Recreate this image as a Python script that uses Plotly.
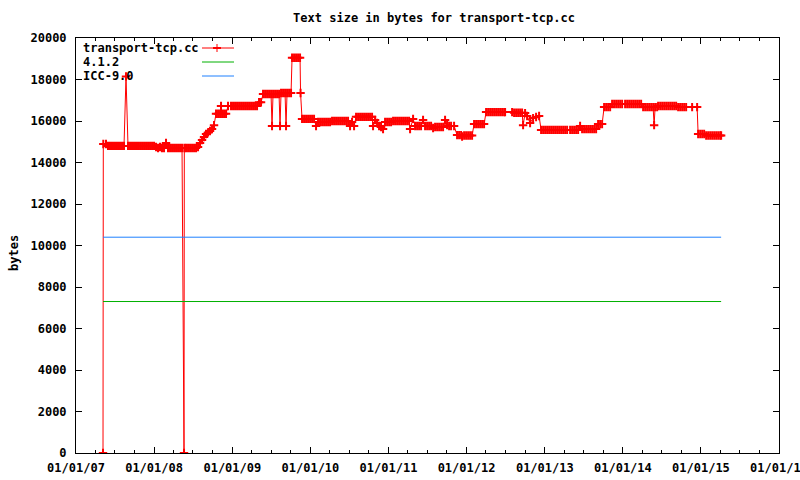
import pandas as pd
import plotly.graph_objects as go

# ---------------- data ----------------
title_text = "Text size in bytes for transport-tcp.cc"
series_names = ["transport-tcp.cc", "4.1.2", "ICC-9.0"]

# decimal-year dates of the builds of transport-tcp.cc
build_years = [
    2007.3457, 2007.3495, 2007.3841, 2007.4097, 2007.4353, 2007.4609, 2007.4866, 2007.5122,
    2007.5378, 2007.5634, 2007.5890, 2007.6146, 2007.6402, 2007.6658, 2007.6914, 2007.7170,
    2007.7426, 2007.7682, 2007.7938, 2007.8195, 2007.8451, 2007.8707, 2007.8963, 2007.9219,
    2007.9475, 2007.9731, 2007.9987, 2008.0243, 2008.0499, 2008.0755, 2008.1011, 2008.1268,
    2008.1524, 2008.1780, 2008.2036, 2008.2292, 2008.2548, 2008.2804, 2008.3060, 2008.3316,
    2008.3572, 2008.3828, 2008.3867, 2008.4084, 2008.4341, 2008.4597, 2008.4853, 2008.5109,
    2008.5365, 2008.5621, 2008.5877, 2008.6133, 2008.6389, 2008.6645, 2008.6901, 2008.7157,
    2008.7414, 2008.7670, 2008.7926, 2008.8182, 2008.8438, 2008.8566, 2008.8694, 2008.8950,
    2008.9206, 2008.9462, 2008.9846, 2009.0102, 2009.0358, 2009.0614, 2009.0871, 2009.1127,
    2009.1383, 2009.1639, 2009.1895, 2009.2151, 2009.2407, 2009.2663, 2009.2919, 2009.3175,
    2009.3431, 2009.3687, 2009.3943, 2009.4200, 2009.4456, 2009.4712, 2009.4968, 2009.5096,
    2009.5224, 2009.5480, 2009.5736, 2009.5992, 2009.6120, 2009.6248, 2009.6504, 2009.6760,
    2009.6888, 2009.7016, 2009.7273, 2009.7529, 2009.7657, 2009.7913, 2009.8169, 2009.8425,
    2009.8681, 2009.8745, 2009.8937, 2009.9193, 2009.9449, 2009.9705, 2009.9961, 2010.0217,
    2010.0474, 2010.0730, 2010.0986, 2010.1242, 2010.1498, 2010.1754, 2010.2010, 2010.2266,
    2010.2522, 2010.2778, 2010.3034, 2010.3290, 2010.3546, 2010.3803, 2010.4059, 2010.4315,
    2010.4571, 2010.4827, 2010.5083, 2010.5339, 2010.5595, 2010.5851, 2010.6107, 2010.6363,
    2010.6619, 2010.6876, 2010.7132, 2010.7388, 2010.7644, 2010.7900, 2010.8028, 2010.8284,
    2010.8540, 2010.8796, 2010.9052, 2010.9308, 2010.9565, 2010.9821, 2011.0077, 2011.0333,
    2011.0589, 2011.0845, 2011.1101, 2011.1357, 2011.1613, 2011.1869, 2011.2125, 2011.2382,
    2011.2638, 2011.2766, 2011.3150, 2011.3406, 2011.3662, 2011.3918, 2011.4174, 2011.4430,
    2011.4686, 2011.4942, 2011.5198, 2011.5455, 2011.5711, 2011.5967, 2011.6223, 2011.6479,
    2011.6735, 2011.6991, 2011.7247, 2011.7503, 2011.7759, 2011.8015, 2011.8399, 2011.8783,
    2011.9039, 2011.9296, 2011.9424, 2011.9680, 2011.9936, 2012.0192, 2012.0448, 2012.0704,
    2012.0960, 2012.1216, 2012.1472, 2012.1728, 2012.1984, 2012.2240, 2012.2497, 2012.2753,
    2012.3009, 2012.3265, 2012.3521, 2012.3777, 2012.4033, 2012.4289, 2012.4545, 2012.4801,
    2012.4929, 2012.5826, 2012.6082, 2012.6338, 2012.6594, 2012.6850, 2012.7106, 2012.7234,
    2012.7490, 2012.7746, 2012.8130, 2012.8514, 2012.8898, 2012.9282, 2012.9539, 2012.9795,
    2013.0051, 2013.0307, 2013.0563, 2013.0819, 2013.1075, 2013.1331, 2013.1587, 2013.1843,
    2013.2099, 2013.2356, 2013.2612, 2013.2868, 2013.3252, 2013.3508, 2013.3764, 2013.4020,
    2013.4276, 2013.4532, 2013.4788, 2013.5044, 2013.5300, 2013.5557, 2013.5813, 2013.6069,
    2013.6325, 2013.6581, 2013.6837, 2013.7093, 2013.7349, 2013.7605, 2013.7861, 2013.8117,
    2013.8374, 2013.8630, 2013.8886, 2013.9142, 2013.9398, 2013.9654, 2013.9910, 2014.0294,
    2014.0550, 2014.0806, 2014.1062, 2014.1318, 2014.1575, 2014.1831, 2014.2087, 2014.2343,
    2014.2599, 2014.2855, 2014.3111, 2014.3367, 2014.3623, 2014.3879, 2014.4007, 2014.4135,
    2014.4391, 2014.4519, 2014.4776, 2014.5032, 2014.5288, 2014.5544, 2014.5800, 2014.6056,
    2014.6312, 2014.6568, 2014.6824, 2014.7080, 2014.7336, 2014.7593, 2014.7849, 2014.8105,
    2014.8873, 2014.9513, 2014.9641, 2014.9898, 2015.0154, 2015.0410, 2015.0666, 2015.0922,
    2015.1178, 2015.1434, 2015.1690, 2015.1946, 2015.2202, 2015.2458, 2015.2586,
]

# text size in bytes for each build
text_bytes = [
    0, 14890, 14890, 14800, 14800, 14800, 14800, 14800,
    14800, 14800, 14800, 14800, 18150, 14800, 14800, 14800,
    14800, 14800, 14800, 14800, 14800, 14800, 14800, 14800,
    14800, 14800, 14800, 14750, 14700, 14750, 14700, 14700,
    14940, 14700, 14700, 14700, 14700, 14700, 14700, 14700,
    14700, 0, 14700, 14700, 14700, 14700, 14700, 14700,
    14700, 14750, 14940, 15080, 15230, 15370, 15450, 15520,
    15610, 15800, 16350, 16350, 16350, 16720, 16350, 16350,
    16350, 16720, 16720, 16720, 16720, 16720, 16720, 16720,
    16720, 16720, 16720, 16720, 16720, 16720, 16720, 16720,
    16900, 16900, 17300, 17300, 17300, 17300, 17300, 15760,
    17300, 17300, 17300, 17300, 15760, 17350, 17350, 17350,
    15760, 17350, 17350, 17350, 19050, 19050, 19050, 19050,
    19050, 17350, 16100, 16100, 16100, 16100, 16100, 16100,
    16100, 15760, 15950, 15950, 15950, 15950, 15950, 15950,
    15950, 16000, 16000, 16000, 16000, 16000, 16000, 16000,
    16000, 16000, 15760, 15950, 15760, 16200, 16200, 16200,
    16200, 16200, 16200, 16200, 16200, 16200, 15760, 16050,
    15900, 15760, 15710, 15610, 15950, 15950, 15950, 15950,
    16000, 16000, 16000, 16000, 16000, 16000, 16000, 16000,
    16000, 15610, 16100, 15760, 15760, 15760, 15760, 16050,
    15760, 15760, 15760, 15760, 15660, 15710, 15710, 15710,
    15710, 15710, 16050, 15800, 15760, 15760, 15760, 15320,
    15320, 15320, 15250, 15300, 15300, 15300, 15300, 15300,
    15850, 15850, 15850, 15850, 15850, 15850, 16430, 16430,
    16430, 16430, 16430, 16430, 16430, 16430, 16430, 16430,
    16430, 16430, 16400, 16400, 16400, 16400, 16400, 15800,
    16380, 16240, 15900, 16140, 16190, 16240, 15570, 15570,
    15570, 15570, 15570, 15570, 15570, 15570, 15570, 15570,
    15570, 15570, 15570, 15570, 15570, 15570, 15570, 15570,
    15570, 15760, 15610, 15610, 15610, 15610, 15610, 15610,
    15610, 15610, 15850, 15850, 15850, 16670, 16670, 16670,
    16670, 16820, 16820, 16820, 16820, 16820, 16820, 16820,
    16820, 16820, 16820, 16820, 16820, 16820, 16820, 16820,
    16670, 16670, 16670, 16670, 16670, 16670, 15800, 16670,
    16670, 16720, 16720, 16720, 16720, 16720, 16720, 16720,
    16720, 16720, 16720, 16670, 16670, 16670, 16670, 16670,
    16670, 16670, 15370, 15370, 15370, 15370, 15300, 15300,
    15300, 15300, 15300, 15300, 15300, 15300, 15300,
]

# reference compilers (constant over the period)
ref_years = [2007.3457, 2015.2586]
gcc412_bytes = [7300, 7300]
icc90_bytes = [10400, 10400]

y_ticks = [0, 2000, 4000, 6000, 8000, 10000, 12000, 14000, 16000, 18000, 20000]
x_range = ["2007-01-01", "2016-01-01"]

# ---------------- helpers ----------------
BASE = pd.Timestamp("2007-01-01")


def to_dates(years):
    return [BASE + pd.Timedelta(days=(y - 2007) * 365.25) for y in years]


W, H = 800, 480
L, R, T, B = 76, 779, 38, 453          # plot area in pixels
FONT = "DejaVu Sans Mono"
FS = 12
RED, GREEN, BLUE = "#ff0000", "#00b000", "#1e80ff"


def px(x):
    return (x - L) / (R - L)


def py(y):
    return (B - y) / (B - T)


fig = go.Figure()
fig.add_trace(go.Scatter(
    x=to_dates(build_years), y=text_bytes, mode="lines+markers",
    line=dict(color=RED, width=1),
    marker=dict(symbol="cross-thin", size=6, line=dict(color=RED, width=2)),
    name=series_names[0], showlegend=False))
fig.add_trace(go.Scatter(
    x=to_dates(ref_years), y=gcc412_bytes, mode="lines",
    line=dict(color=GREEN, width=1), name=series_names[1], showlegend=False))
fig.add_trace(go.Scatter(
    x=to_dates(ref_years), y=icc90_bytes, mode="lines",
    line=dict(color=BLUE, width=1), name=series_names[2], showlegend=False))

tickfont = dict(family=FONT, size=FS, color="black", weight="bold")

fig.update_layout(
    width=W, height=H,
    margin=dict(l=L, r=W - R, t=T, b=H - B, pad=0, autoexpand=False),
    paper_bgcolor="white", plot_bgcolor="white",
    font=dict(family=FONT, size=FS, color="black"),
    title=dict(text=title_text, x=434 / W, xref="container", xanchor="center",
               y=1 - 18 / H, yref="container", yanchor="middle",
               font=dict(family=FONT, size=FS, color="black", weight="bold")),
    xaxis=dict(type="date", range=x_range, tickformat="%m/%d/%y",
               tick0="2007-01-01", dtick="M12",
               ticks="inside", ticklen=6, tickwidth=1, tickcolor="black",
               minor=dict(dtick="M3", ticks="inside", ticklen=3, tickcolor="black"),
               showline=True, linecolor="black", linewidth=1, mirror="allticks",
               showgrid=False, zeroline=False, tickfont=tickfont,
               ticklabelstandoff=4, ticklabeloverflow="allow", automargin=False),
    yaxis=dict(range=[0, 20000], tickvals=y_ticks, tickformat="d",
               ticks="inside", ticklen=6, tickwidth=1, tickcolor="black",
               showline=True, linecolor="black", linewidth=1, mirror="allticks",
               showgrid=False, zeroline=False, tickfont=tickfont,
               ticklabelstandoff=6, automargin=False),
)

# y-axis label
fig.add_annotation(text="bytes", xref="paper", yref="paper", x=px(14), y=py(253),
                   textangle=-90, showarrow=False, xanchor="center", yanchor="middle",
                   font=tickfont)

# gnuplot-style key (text left, sample right)
key_rows = [48, 62, 76]
key_colors = [RED, GREEN, BLUE]
for name, row, col in zip(series_names, key_rows, key_colors):
    fig.add_annotation(text=name, xref="paper", yref="paper", x=px(82), y=py(row),
                       xanchor="left", yanchor="middle", showarrow=False,
                       borderpad=0, font=tickfont)
    fig.add_shape(type="line", xref="paper", yref="paper",
                  x0=px(202), x1=px(234), y0=py(row), y1=py(row),
                  line=dict(color=col, width=1))
fig.add_shape(type="line", xref="paper", yref="paper",
              x0=px(217), x1=px(217), y0=py(44), y1=py(52),
              line=dict(color=RED, width=1))
fig.add_shape(type="line", xref="paper", yref="paper",
              x0=px(213), x1=px(221), y0=py(48), y1=py(48),
              line=dict(color=RED, width=2))

fig.write_html(
    "out.html",
    config={"displayModeBar": False},
    post_script="document.body.style.margin='0';document.body.style.overflow='hidden';",
)
